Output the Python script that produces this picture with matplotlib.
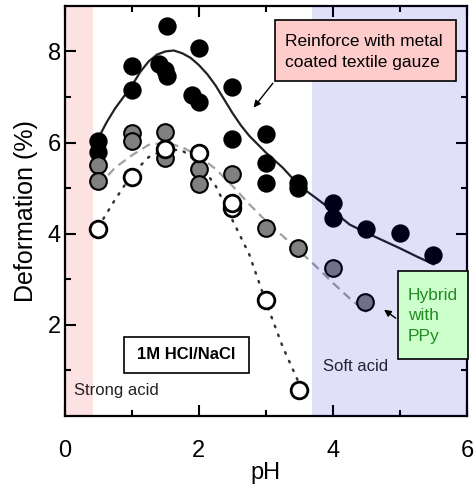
import matplotlib
matplotlib.use("Agg")
from matplotlib import pyplot as plt
from matplotlib.patches import Rectangle

plt.rcParams['font.family'] = ['Liberation Sans', 'DejaVu Sans']

# metal coated textile gauze (black)
black_x = [0.5, 0.5, 1.0, 1.0, 1.4, 1.5, 1.52, 1.52, 2.0, 1.9, 2.0, 2.5, 2.5,
           3.0, 3.0, 3.0, 3.48, 3.48, 4.0, 4.0, 4.5, 5.0, 5.5]
black_y = [6.03, 5.8, 7.67, 7.15, 7.72, 7.6, 7.45, 8.55, 8.07, 7.05, 6.9, 7.22, 6.07,
           6.18, 5.56, 5.12, 5.12, 5.0, 4.68, 4.35, 4.1, 4.02, 3.54]
# hybrid with PPy (gray)
gray_x = [0.5, 0.5, 1.0, 1.0, 1.5, 1.5, 2.0, 2.0, 2.5, 3.0, 3.48, 4.0, 4.48]
gray_y = [5.5, 5.15, 6.2, 6.03, 6.23, 5.67, 5.43, 5.08, 5.3, 4.13, 3.68, 3.25, 2.5]
# plain (open)
open_x = [0.5, 1.0, 1.5, 2.0, 2.5, 2.5, 3.0, 3.5]
open_y = [4.1, 5.25, 5.85, 5.78, 4.57, 4.68, 2.55, 0.57]

# fitted curves
solid_x = [0.5, 0.625, 0.75, 0.875, 1.0, 1.125, 1.25, 1.375, 1.5, 1.625, 1.75, 1.875,
           2.0, 2.125, 2.25, 2.375, 2.5, 2.625, 2.75, 3.0, 3.25, 3.5,
           3.75, 4.0, 4.25, 4.5, 4.75, 5.0, 5.25, 5.5]
solid_y = [6.1, 6.45, 6.75, 7.0, 7.25, 7.55, 7.78, 7.93, 8.0, 8.02, 7.96, 7.86,
           7.7, 7.5, 7.25, 6.95, 6.65, 6.38, 6.15, 5.78, 5.45, 5.05,
           4.78, 4.5, 4.2, 4.02, 3.85, 3.68, 3.5, 3.33]
dash_x = [0.5, 0.75, 1.0, 1.25, 1.5, 1.75, 2.0, 2.25, 2.5, 2.75, 3.0, 3.25, 3.5,
          3.75, 4.0, 4.25, 4.5]
dash_y = [5.05, 5.45, 5.72, 5.95, 6.0, 5.9, 5.7, 5.42, 5.05, 4.65, 4.28, 3.95, 3.62,
          3.28, 2.92, 2.58, 2.28]
dot_x = [0.5, 0.75, 1.0, 1.25, 1.5, 1.75, 2.0, 2.25, 2.5, 2.75, 3.0, 3.25, 3.5, 3.6]
dot_y = [4.15, 4.75, 5.3, 5.68, 5.85, 5.83, 5.55, 5.05, 4.3, 3.55, 2.5, 1.52, 0.7, 0.35]

fig = plt.figure(figsize=(4.77, 4.86), dpi=100)
ax = fig.add_axes([0.136, 0.144, 0.843, 0.844])

ax.axvspan(0, 0.42, color='#fde2e2', lw=0, zorder=0)

ax.plot(solid_x, solid_y, color='#222222', lw=1.6, zorder=2)
ax.plot(dash_x, dash_y, color='#a0a0a0', lw=1.6, ls=(0, (4, 2.5)), zorder=2)
ax.plot(dot_x, dot_y, color='#333333', lw=1.8, ls=(0, (0.6, 3.2)),
        dash_capstyle='round', zorder=2)

ms = 12
ax.plot(black_x, black_y, 'o', ms=ms, mfc='black', mec='black', mew=1.2, zorder=3)
ax.plot(gray_x, gray_y, 'o', ms=ms, mfc='#808080', mec='black', mew=1.5, zorder=3)
ax.plot(open_x, open_y, 'o', ms=ms, mfc='white', mec='black', mew=2, zorder=3)

# soft acid overlay drawn above the markers
ax.axvspan(3.69, 6, color='#0000d5', alpha=0.12, lw=0, zorder=4)

ax.text(0.13, 0.57, 'Strong acid', fontsize=12, va='center', ha='left', color='#222222', zorder=5)
ax.text(3.85, 1.08, 'Soft acid', fontsize=12, va='center', ha='left', color='#222233', zorder=5)

ax.add_patch(Rectangle((0.88, 0.94), 1.87, 0.79, fc='white', ec='black', lw=1.2, zorder=5))
ax.text(1.81, 1.34, '1M HCl/NaCl', fontsize=12, fontweight='bold', ha='center',
        va='center', zorder=6)

ax.add_patch(Rectangle((3.13, 7.35), 2.71, 1.34, fc='#ffcccc', ec='black', lw=1.2, zorder=5))
ax.text(3.28, 7.99, 'Reinforce with metal\ncoated textile gauze', fontsize=12.5,
        ha='left', va='center', linespacing=1.45, zorder=6)
ax.annotate('', xy=(2.79, 6.72), xytext=(3.13, 7.35),
            arrowprops=dict(arrowstyle='-|>', color='black', lw=1, mutation_scale=10),
            zorder=6)

ax.add_patch(Rectangle((4.97, 1.25), 1.04, 1.93, fc='#ccffcc', ec='black', lw=1.2,
                       zorder=5, clip_on=False))
ax.text(5.12, 2.2, 'Hybrid\nwith\nPPy', fontsize=12.5, color='#228b22', ha='left',
        va='center', linespacing=1.45, zorder=6)
ax.annotate('', xy=(4.73, 2.37), xytext=(4.97, 2.11),
            arrowprops=dict(arrowstyle='-|>', color='black', lw=1, mutation_scale=10),
            zorder=6)

ax.set_xlim(0, 6)
ax.set_ylim(0, 9)
ax.set_xticks([0, 2, 4, 6])
ax.set_xticks([1, 3, 5], minor=True)
ax.set_yticks([2, 4, 6, 8])
ax.set_yticks([1, 3, 5, 7], minor=True)
ax.tick_params(which='both', direction='in', top=True, right=True, width=1.5)
ax.tick_params(which='major', length=8, labelsize=17)
ax.tick_params(which='minor', length=4.5)
ax.tick_params(axis='x', which='major', pad=17)
ax.tick_params(axis='y', which='major', pad=3)
for s in ax.spines.values():
    s.set_linewidth(1.6)

ax.set_xlabel('pH', fontsize=17, labelpad=0)
ax.set_ylabel('Deformation (%)', fontsize=18, labelpad=7)

fig.savefig('out.png', dpi=100)
